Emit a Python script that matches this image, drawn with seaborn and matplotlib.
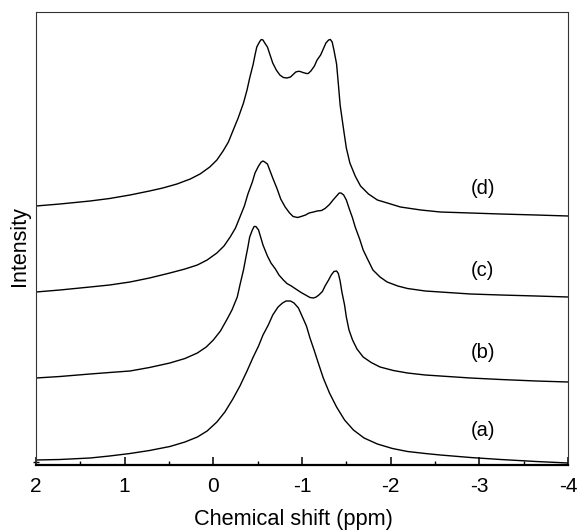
import matplotlib
matplotlib.use("Agg")
import matplotlib.pyplot as plt
from matplotlib.ticker import MultipleLocator
import seaborn as sns
import pandas as pd

# ---- data (chemical shift in ppm, intensity in arbitrary units) ----
shift_a = [2.00, 1.73, 1.39, 1.17, 0.94, 0.72, 0.49, 0.32, 0.18, 0.07, -0.04, -0.13,
           -0.22, -0.30, -0.38, -0.45, -0.51, -0.56, -0.62, -0.67, -0.73, -0.78, -0.82, -0.87,
           -0.91, -0.96, -1.00, -1.05, -1.09, -1.14, -1.18, -1.24, -1.31, -1.39, -1.48, -1.58,
           -1.70, -1.85, -2.02, -2.19, -2.39, -2.56, -2.90, -3.24, -3.64, -4.00]
inten_a = [5, 5.5, 7, 9, 11.5, 14.5, 18.5, 23, 28, 34, 43, 53,
           66, 79, 94, 108, 119, 130, 140, 150, 158, 162, 164, 164,
           162, 157, 149, 139, 127, 114, 103, 87, 72, 58, 45, 35,
           27, 21, 16.5, 13.5, 11.5, 10, 7.5, 5.5, 3.5, 2]

shift_b = [2.00, 1.73, 1.39, 1.17, 0.94, 0.72, 0.49, 0.32, 0.18, 0.08, 0.00, -0.08,
           -0.15, -0.21, -0.27, -0.30, -0.34, -0.37, -0.39, -0.41, -0.44, -0.46, -0.48, -0.51,
           -0.53, -0.56, -0.61, -0.65, -0.70, -0.74, -0.79, -0.83, -0.88, -0.93, -0.99, -1.05,
           -1.09, -1.13, -1.16, -1.19, -1.23, -1.26, -1.30, -1.33, -1.36, -1.39, -1.41, -1.43,
           -1.45, -1.48, -1.50, -1.53, -1.57, -1.62, -1.69, -1.78, -1.88, -2.03, -2.19, -2.39,
           -2.56, -2.90, -3.24, -3.64, -4.00]
inten_b = [87, 88.5, 91, 92.5, 94, 97.5, 102, 106.5, 112, 118, 125, 134,
           145, 155, 168, 180, 195, 209, 218, 228, 235, 238.5, 238.5, 235,
           229, 220, 209, 202, 196, 190, 185, 181.5, 179, 176, 172.5, 169.5,
           167.5, 167, 168, 170, 173.5, 179, 185, 190, 193.5, 194, 191.5, 184,
           173, 160, 148, 135, 125, 116, 108, 102.5, 98, 94.5, 92, 90,
           89, 87, 85.5, 84, 83]

shift_c = [2.00, 1.73, 1.39, 1.17, 0.94, 0.72, 0.49, 0.32, 0.18, 0.07, -0.04, -0.12,
           -0.19, -0.25, -0.30, -0.35, -0.39, -0.44, -0.47, -0.51, -0.54, -0.56, -0.58, -0.61,
           -0.64, -0.67, -0.72, -0.76, -0.81, -0.86, -0.90, -0.95, -0.99, -1.04, -1.08, -1.13,
           -1.17, -1.22, -1.26, -1.31, -1.35, -1.39, -1.42, -1.44, -1.47, -1.50, -1.53, -1.57,
           -1.60, -1.65, -1.69, -1.75, -1.80, -1.88, -1.96, -2.08, -2.19, -2.39, -2.56, -2.90,
           -3.24, -3.64, -4.00]
inten_c = [173, 175, 178, 180, 183, 187, 192, 196, 200, 205, 212, 219,
           228, 237, 248, 259, 271, 283, 292, 299, 303, 304, 303, 301,
           294, 287, 276, 266, 258, 252, 248.5, 247.5, 248.5, 250, 252, 253,
           254, 254.5, 256.5, 260.5, 265, 269, 272, 272, 270, 265, 257, 247,
           238, 226, 215, 204, 195, 188, 183, 179, 176.5, 174, 173, 171,
           170, 169, 168]

shift_d = [2.00, 1.73, 1.39, 1.17, 0.94, 0.72, 0.57, 0.41, 0.26, 0.15, 0.04, -0.04,
           -0.11, -0.17, -0.22, -0.28, -0.34, -0.38, -0.41, -0.45, -0.47, -0.49, -0.52, -0.54,
           -0.56, -0.58, -0.61, -0.64, -0.67, -0.71, -0.75, -0.79, -0.83, -0.87, -0.90, -0.93,
           -0.96, -0.98, -1.01, -1.05, -1.07, -1.10, -1.14, -1.17, -1.21, -1.24, -1.27, -1.30,
           -1.32, -1.34, -1.36, -1.39, -1.41, -1.43, -1.47, -1.50, -1.54, -1.60, -1.66, -1.75,
           -1.85, -2.00, -2.11, -2.34, -2.56, -2.90, -3.24, -3.64, -4.00]
inten_d = [259, 261, 264, 266.5, 270, 274, 277, 281, 286, 291, 298, 305,
           314, 323, 334, 347, 362, 375, 387, 401, 410, 418, 423, 425.5,
           425, 422, 418, 410, 402, 395, 390, 387.5, 387, 388, 390.5, 393,
           393.7, 393.5, 392.5, 391.5, 391.5, 394, 399, 405, 410, 416, 422, 425,
           425.5, 423, 415, 401, 381, 360, 335, 317, 302, 289, 279, 271,
           265, 261, 258, 255, 253, 252, 251, 250, 249]

curve_labels = ["(a)", "(b)", "(c)", "(d)"]
label_shift = [-3.04, -3.04, -3.04, -3.04]
label_inten = [35, 113, 195, 277]

xticks = [2, 1, 0, -1, -2, -3, -4]
xtick_labels = ["2", "1", "0", "-1", "-2", "-3", "-4"]

# ---- build long table ----
frames = []
for name, xs, ys in [("a", shift_a, inten_a), ("b", shift_b, inten_b),
                     ("c", shift_c, inten_c), ("d", shift_d, inten_d)]:
    frames.append(pd.DataFrame({"shift": xs, "intensity": ys, "sample": name}))
df = pd.concat(frames, ignore_index=True)

sns.set_theme(style="white")
plt.rcParams["font.family"] = ["Liberation Sans", "DejaVu Sans"]

fig = plt.figure(figsize=(5.78, 5.30), dpi=100)
ax = fig.add_axes([36 / 578, (530 - 465) / 530, 532 / 578, 453 / 530])

for name in ["a", "b", "c", "d"]:
    sub = df[df["sample"] == name]
    sns.lineplot(data=sub, x="shift", y="intensity", ax=ax, color="black",
                 linewidth=1.0, estimator=None, sort=False, legend=False,
                 solid_joinstyle="round", solid_capstyle="round")

for lab, lx, ly in zip(curve_labels, label_shift, label_inten):
    ax.text(lx, ly, lab, ha="center", va="center", fontsize=14.5, color="black")

ax.set_xlim(2, -4)
ax.set_ylim(0, 453)
ax.set_xticks(xticks)
ax.set_xticklabels(xtick_labels)
ax.xaxis.set_minor_locator(MultipleLocator(0.5))
ax.set_yticks([3])
ax.set_yticklabels([""])

ax.tick_params(axis="x", which="major", direction="in", length=6, width=1.1,
               pad=9, labelsize=15, color="black", labelcolor="black", bottom=True)
ax.tick_params(axis="x", which="minor", direction="in", length=3, width=1.0,
               color="black", bottom=True)
ax.tick_params(axis="y", which="major", direction="inout", length=5, width=1.0,
               color="black", left=True)

for side in ["left", "top", "right"]:
    ax.spines[side].set_linewidth(0.8)
    ax.spines[side].set_color("#333333")
ax.spines["bottom"].set_linewidth(1.6)
ax.spines["bottom"].set_color("black")

ax.set_xlabel("Chemical shift (ppm)", fontsize=15.7, color="black", va="baseline")
ax.xaxis.set_label_coords(0.483, -(525 - 465) / 453)
ax.set_ylabel("Intensity", fontsize=15.5, color="black")
ax.yaxis.set_label_coords(-0.012, 0.483)

fig.savefig("out.png", dpi=100)
